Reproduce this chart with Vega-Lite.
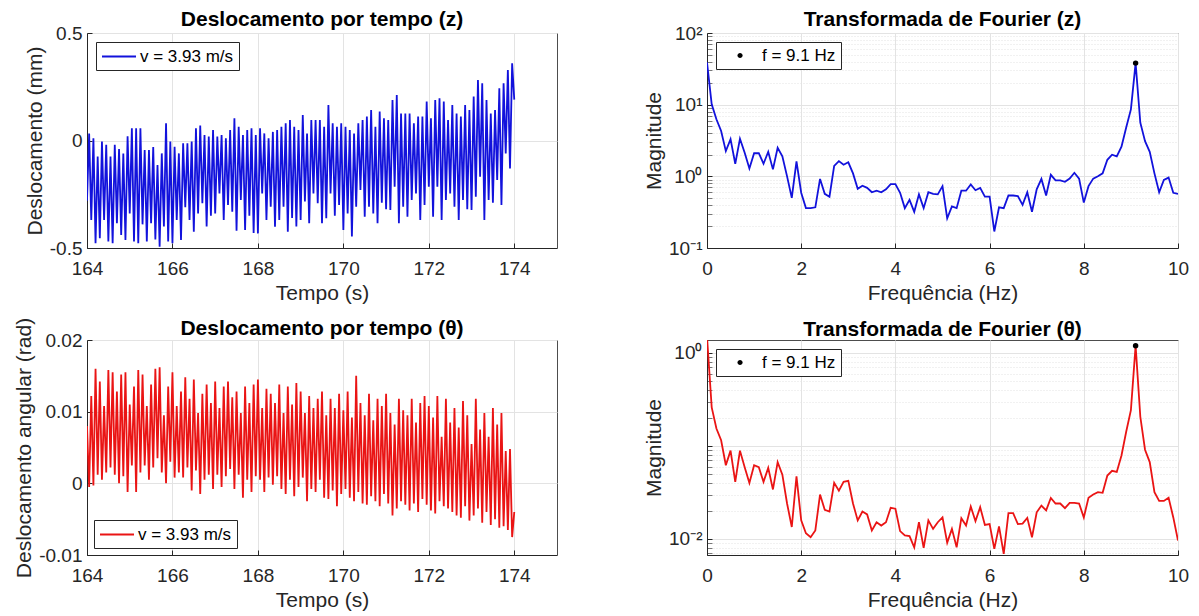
{
"$schema": "https://vega.github.io/schema/vega-lite/v6.json",
"background": "white",
"padding": {"left": 13, "top": 8, "right": 0, "bottom": 0},
"columns": 2,
"spacing": {"row": 92, "column": 150},
"bounds": "flush",
"resolve": {"scale": {"x": "independent", "y": "independent", "color": "independent"}, "legend": {"color": "independent"}},
"config": {
  "font": "Liberation Sans",
  "view": {"stroke": "#4d4d4d", "strokeWidth": 1},
  "axis": {"labelFontSize": 19, "titleFontSize": 21, "titleFontWeight": "normal", "labelColor": "#262626", "titleColor": "#262626", "domainColor": "#262626", "gridColor": "#e3e3e3", "ticks": true, "tickSize": -5, "tickColor": "#262626", "labelPadding": 10, "titlePadding": 4, "labelFlush": false},
  "axisX": {"labelPadding": 16, "titlePadding": 4},
  "title": {"fontSize": 21, "fontWeight": "bold", "color": "#000000", "offset": 0},
  "legend": {"strokeColor": "#262626", "fillColor": "white", "padding": 5, "labelFontSize": 17, "labelColor": "#000000", "labelLimit": 300, "cornerRadius": 0, "offset": 9}
},
"datasets": {
"ts": [
{"t":164,"z":-0.28,"a":0.008},{"t":164.05,"z":0.033,"a":-0.0005},{"t":164.1,"z":-0.37,"a":0.0122},{"t":164.15,"z":0.01,"a":-0.0003},{"t":164.2,"z":-0.478,"a":0.016},{"t":164.25,"z":-0.075,"a":0.0012},{"t":164.3,"z":-0.455,"a":0.0142},{"t":164.35,"z":-0.005,"a":0.0005},{"t":164.4,"z":-0.37,"a":0.0108},{"t":164.45,"z":-0.02,"a":0.0015},
{"t":164.5,"z":-0.47,"a":0.0158},{"t":164.55,"z":-0.075,"a":0.0022},{"t":164.6,"z":-0.478,"a":0.0155},{"t":164.65,"z":-0.02,"a":0.0012},{"t":164.7,"z":-0.385,"a":0.0128},{"t":164.75,"z":-0.04,"a":0},{"t":164.8,"z":-0.44,"a":0.0152},{"t":164.85,"z":-0.06,"a":0.001},{"t":164.9,"z":-0.463,"a":0.0155},{"t":164.95,"z":0.02,"a":-0.0012},
{"t":165,"z":-0.34,"a":0.011},{"t":165.05,"z":0.057,"a":0.0025},{"t":165.1,"z":-0.47,"a":0.0135},{"t":165.15,"z":0.057,"a":-0.0012},{"t":165.2,"z":-0.478,"a":0.0158},{"t":165.25,"z":0.057,"a":0.0015},{"t":165.3,"z":-0.39,"a":0.0152},{"t":165.35,"z":-0.044,"a":0.0025},{"t":165.4,"z":-0.47,"a":0.0108},{"t":165.45,"z":-0.044,"a":0.0005},
{"t":165.5,"z":-0.385,"a":0.0138},{"t":165.55,"z":-0.03,"a":0.0022},{"t":165.6,"z":-0.46,"a":0.016},{"t":165.65,"z":-0.114,"a":0.0035},{"t":165.7,"z":-0.494,"a":0.0162},{"t":165.75,"z":-0.06,"a":0.0015},{"t":165.8,"z":-0.4,"a":0.0095},{"t":165.85,"z":0.08,"a":0},{"t":165.9,"z":-0.47,"a":0.0135},{"t":165.95,"z":-0.005,"a":0.003},
{"t":166,"z":-0.478,"a":0.0155},{"t":166.05,"z":-0.029,"a":0.0008},{"t":166.1,"z":-0.37,"a":0.0108},{"t":166.15,"z":-0.06,"a":0.0015},{"t":166.2,"z":-0.463,"a":0.0128},{"t":166.25,"z":-0.013,"a":0.0008},{"t":166.3,"z":-0.31,"a":0.0148},{"t":166.35,"z":-0.013,"a":0.0022},{"t":166.4,"z":-0.37,"a":0.0118},{"t":166.45,"z":-0.005,"a":-0.001},
{"t":166.5,"z":-0.424,"a":0.0145},{"t":166.55,"z":0.057,"a":0.0018},{"t":166.6,"z":-0.339,"a":0.0098},{"t":166.65,"z":0.07,"a":-0.0015},{"t":166.7,"z":-0.292,"a":0.0125},{"t":166.75,"z":0.026,"a":0.0005},{"t":166.8,"z":-0.4,"a":0.0138},{"t":166.85,"z":0.018,"a":0.0012},{"t":166.9,"z":-0.35,"a":0.0112},{"t":166.95,"z":0.049,"a":-0.0008},
{"t":167,"z":-0.339,"a":0.0142},{"t":167.05,"z":0.018,"a":0.0012},{"t":167.1,"z":-0.246,"a":0.0105},{"t":167.15,"z":0.026,"a":-0.0005},{"t":167.2,"z":-0.37,"a":0.0135},{"t":167.25,"z":0.01,"a":0.001},{"t":167.3,"z":-0.3,"a":0.0142},{"t":167.35,"z":0.049,"a":0.002},{"t":167.4,"z":-0.331,"a":0.012},{"t":167.45,"z":0.103,"a":-0.0008},
{"t":167.5,"z":-0.42,"a":0.0128},{"t":167.55,"z":0.064,"a":0.0012},{"t":167.6,"z":-0.277,"a":0.0098},{"t":167.65,"z":0.026,"a":-0.002},{"t":167.7,"z":-0.416,"a":0.0135},{"t":167.75,"z":0.049,"a":0.0005},{"t":167.8,"z":-0.35,"a":0.0112},{"t":167.85,"z":0.057,"a":-0.0012},{"t":167.9,"z":-0.43,"a":0.0138},{"t":167.95,"z":0.026,"a":0.001},
{"t":168,"z":-0.432,"a":0.0145},{"t":168.05,"z":0.057,"a":0.0005},{"t":168.1,"z":-0.246,"a":0.0105},{"t":168.15,"z":0.033,"a":-0.0012},{"t":168.2,"z":-0.37,"a":0.0132},{"t":168.25,"z":0.01,"a":0.0008},{"t":168.3,"z":-0.308,"a":0.0125},{"t":168.35,"z":0.04,"a":-0.0002},{"t":168.4,"z":-0.401,"a":0.0112},{"t":168.45,"z":0.049,"a":0.001},
{"t":168.5,"z":-0.37,"a":0.0138},{"t":168.55,"z":0.064,"a":-0.0008},{"t":168.6,"z":-0.308,"a":0.0098},{"t":168.65,"z":0.08,"a":-0.0015},{"t":168.7,"z":-0.424,"a":0.0135},{"t":168.75,"z":0.095,"a":0.0005},{"t":168.8,"z":-0.36,"a":0.011},{"t":168.85,"z":0.064,"a":-0.0018},{"t":168.9,"z":-0.4,"a":0.014},{"t":168.95,"z":0.049,"a":-0.0005},
{"t":169,"z":-0.37,"a":0.0128},{"t":169.05,"z":0.119,"a":0.0008},{"t":169.1,"z":-0.284,"a":0.0098},{"t":169.15,"z":0.033,"a":-0.0025},{"t":169.2,"z":-0.385,"a":0.0122},{"t":169.25,"z":0.095,"a":-0.0008},{"t":169.3,"z":-0.246,"a":0.0105},{"t":169.35,"z":0.095,"a":-0.0012},{"t":169.4,"z":-0.292,"a":0.0118},{"t":169.45,"z":0.095,"a":0.0005},
{"t":169.5,"z":-0.385,"a":0.0128},{"t":169.55,"z":0.064,"a":-0.002},{"t":169.6,"z":-0.362,"a":0.0095},{"t":169.65,"z":0.165,"a":-0.0022},{"t":169.7,"z":-0.246,"a":0.0118},{"t":169.75,"z":0.08,"a":-0.001},{"t":169.8,"z":-0.35,"a":0.0105},{"t":169.85,"z":0.064,"a":-0.0032},{"t":169.9,"z":-0.3,"a":0.0125},{"t":169.95,"z":0.08,"a":-0.0015},
{"t":170,"z":-0.416,"a":0.0102},{"t":170.05,"z":0.064,"a":-0.0008},{"t":170.1,"z":-0.339,"a":0.0128},{"t":170.15,"z":0.049,"a":-0.002},{"t":170.2,"z":-0.447,"a":0.0092},{"t":170.25,"z":0.033,"a":-0.0025},{"t":170.3,"z":-0.308,"a":0.015},{"t":170.35,"z":0.08,"a":-0.0012},{"t":170.4,"z":-0.23,"a":0.0112},{"t":170.45,"z":0.095,"a":-0.0028},
{"t":170.5,"z":-0.354,"a":0.0095},{"t":170.55,"z":0.111,"a":-0.003},{"t":170.6,"z":-0.308,"a":0.0125},{"t":170.65,"z":0.142,"a":-0.0018},{"t":170.7,"z":-0.339,"a":0.0088},{"t":170.75,"z":0.064,"a":-0.0025},{"t":170.8,"z":-0.385,"a":0.0118},{"t":170.85,"z":0.135,"a":-0.0032},{"t":170.9,"z":-0.29,"a":0.0108},{"t":170.95,"z":0.103,"a":-0.0015},
{"t":171,"z":-0.32,"a":0.0125},{"t":171.05,"z":0.095,"a":-0.0028},{"t":171.1,"z":-0.323,"a":0.0098},{"t":171.15,"z":0.188,"a":-0.0045},{"t":171.2,"z":-0.215,"a":0.0082},{"t":171.25,"z":0.212,"a":-0.0035},{"t":171.3,"z":-0.385,"a":0.0118},{"t":171.35,"z":0.126,"a":-0.0025},{"t":171.4,"z":-0.308,"a":0.0102},{"t":171.45,"z":0.126,"a":-0.003},
{"t":171.5,"z":-0.354,"a":0.0095},{"t":171.55,"z":0.126,"a":-0.0038},{"t":171.6,"z":-0.277,"a":0.0118},{"t":171.65,"z":0.08,"a":-0.0028},{"t":171.7,"z":-0.246,"a":0.0085},{"t":171.75,"z":0.111,"a":-0.004},{"t":171.8,"z":-0.37,"a":0.0112},{"t":171.85,"z":0.111,"a":-0.0022},{"t":171.9,"z":-0.3,"a":0.0122},{"t":171.95,"z":0.181,"a":-0.003},
{"t":172,"z":-0.215,"a":0.0108},{"t":172.05,"z":0.103,"a":-0.0038},{"t":172.1,"z":-0.354,"a":0.0092},{"t":172.15,"z":0.188,"a":-0.0042},{"t":172.2,"z":-0.215,"a":0.0122},{"t":172.25,"z":0.196,"a":-0.0025},{"t":172.3,"z":-0.37,"a":0.0065},{"t":172.35,"z":0.181,"a":-0.0032},{"t":172.4,"z":-0.277,"a":0.0118},{"t":172.45,"z":0.095,"a":-0.0035},
{"t":172.5,"z":-0.246,"a":0.0085},{"t":172.55,"z":0.165,"a":-0.004},{"t":172.6,"z":-0.308,"a":0.0105},{"t":172.65,"z":0.126,"a":-0.0045},{"t":172.7,"z":-0.37,"a":0.0078},{"t":172.75,"z":0.111,"a":-0.0048},{"t":172.8,"z":-0.277,"a":0.0115},{"t":172.85,"z":0.165,"a":-0.0032},{"t":172.9,"z":-0.32,"a":0.0095},{"t":172.95,"z":0.142,"a":-0.0052},
{"t":173,"z":-0.323,"a":0.0055},{"t":173.05,"z":0.204,"a":-0.0045},{"t":173.1,"z":-0.261,"a":0.0118},{"t":173.15,"z":0.281,"a":-0.0035},{"t":173.2,"z":-0.168,"a":0.0075},{"t":173.25,"z":0.266,"a":-0.0055},{"t":173.3,"z":-0.37,"a":0.0098},{"t":173.35,"z":0.188,"a":-0.004},{"t":173.4,"z":-0.277,"a":0.0065},{"t":173.45,"z":0.126,"a":-0.0058},
{"t":173.5,"z":-0.29,"a":0.0105},{"t":173.55,"z":0.142,"a":-0.005},{"t":173.6,"z":-0.184,"a":0.0082},{"t":173.65,"z":0.243,"a":-0.0062},{"t":173.7,"z":-0.3,"a":0.0098},{"t":173.75,"z":0.266,"a":-0.006},{"t":173.8,"z":-0.06,"a":0.0045},{"t":173.85,"z":0.328,"a":-0.0065},{"t":173.9,"z":-0.13,"a":0.0048},{"t":173.95,"z":0.359,"a":-0.0075},
{"t":174,"z":0.19,"a":-0.004}
],
"ff": [
{"f":0,"z":39,"a":1.5},{"f":0.1,"z":10.1,"a":0.26},{"f":0.2,"z":6.25,"a":0.154},{"f":0.3,"z":4.3,"a":0.115},{"f":0.4,"z":2.25,"a":0.062},{"f":0.5,"z":3.3,"a":0.089},{"f":0.6,"z":1.5,"a":0.041},{"f":0.7,"z":3.35,"a":0.089},{"f":0.8,"z":2.14,"a":0.059},{"f":0.9,"z":1.29,"a":0.04},
{"f":1,"z":2.1,"a":0.062},{"f":1.1,"z":2.1,"a":0.059},{"f":1.2,"z":1.5,"a":0.041},{"f":1.3,"z":2.2,"a":0.058},{"f":1.4,"z":1.25,"a":0.034},{"f":1.5,"z":2.5,"a":0.067},{"f":1.6,"z":1.9,"a":0.049},{"f":1.7,"z":1.0,"a":0.024},{"f":1.8,"z":0.5,"a":0.0134},{"f":1.9,"z":1.62,"a":0.047},
{"f":2,"z":0.59,"a":0.0158},{"f":2.1,"z":0.36,"a":0.0115},{"f":2.2,"z":0.36,"a":0.0104},{"f":2.3,"z":0.37,"a":0.0123},{"f":2.4,"z":0.92,"a":0.03},{"f":2.5,"z":0.57,"a":0.0205},{"f":2.6,"z":0.52,"a":0.0197},{"f":2.7,"z":1.4,"a":0.04},{"f":2.8,"z":1.63,"a":0.033},{"f":2.9,"z":1.45,"a":0.041},
{"f":3,"z":1.57,"a":0.042},{"f":3.1,"z":1.1,"a":0.024},{"f":3.2,"z":0.67,"a":0.0158},{"f":3.3,"z":0.74,"a":0.0197},{"f":3.4,"z":0.69,"a":0.0183},{"f":3.5,"z":0.6,"a":0.0123},{"f":3.6,"z":0.63,"a":0.0151},{"f":3.7,"z":0.6,"a":0.0139},{"f":3.8,"z":0.66,"a":0.0151},{"f":3.9,"z":0.78,"a":0.0216},
{"f":4,"z":0.78,"a":0.0211},{"f":4.1,"z":0.59,"a":0.0121},{"f":4.2,"z":0.36,"a":0.0109},{"f":4.3,"z":0.47,"a":0.0107},{"f":4.4,"z":0.32,"a":0.0081},{"f":4.5,"z":0.56,"a":0.0151},{"f":4.6,"z":0.36,"a":0.008},{"f":4.7,"z":0.6,"a":0.0158},{"f":4.8,"z":0.57,"a":0.0128},{"f":4.9,"z":0.56,"a":0.0151},
{"f":5,"z":0.73,"a":0.017},{"f":5.1,"z":0.26,"a":0.0091},{"f":5.2,"z":0.38,"a":0.0128},{"f":5.3,"z":0.36,"a":0.0081},{"f":5.4,"z":0.63,"a":0.0167},{"f":5.5,"z":0.63,"a":0.0139},{"f":5.6,"z":0.77,"a":0.0223},{"f":5.7,"z":0.64,"a":0.0155},{"f":5.8,"z":0.69,"a":0.0219},{"f":5.9,"z":0.52,"a":0.0141},
{"f":6,"z":0.52,"a":0.0144},{"f":6.1,"z":0.17,"a":0.0078},{"f":6.2,"z":0.37,"a":0.0136},{"f":6.3,"z":0.36,"a":0.0069},{"f":6.4,"z":0.54,"a":0.0189},{"f":6.5,"z":0.54,"a":0.0189},{"f":6.6,"z":0.53,"a":0.0144},{"f":6.7,"z":0.4,"a":0.0146},{"f":6.8,"z":0.6,"a":0.0168},{"f":6.9,"z":0.32,"a":0.0104},
{"f":7,"z":0.66,"a":0.0193},{"f":7.1,"z":0.92,"a":0.0228},{"f":7.2,"z":0.54,"a":0.0202},{"f":7.3,"z":1.05,"a":0.0275},{"f":7.4,"z":0.88,"a":0.024},{"f":7.5,"z":0.88,"a":0.024},{"f":7.6,"z":0.84,"a":0.0214},{"f":7.7,"z":0.93,"a":0.0244},{"f":7.8,"z":1.12,"a":0.0244},{"f":7.9,"z":0.93,"a":0.024},
{"f":8,"z":0.43,"a":0.017},{"f":8.1,"z":0.73,"a":0.0277},{"f":8.2,"z":0.93,"a":0.03},{"f":8.3,"z":1.0,"a":0.0318},{"f":8.4,"z":1.1,"a":0.0313},{"f":8.5,"z":1.7,"a":0.048},{"f":8.6,"z":2.0,"a":0.054},{"f":8.7,"z":1.9,"a":0.0525},{"f":8.8,"z":2.6,"a":0.079},{"f":8.9,"z":4.8,"a":0.142},
{"f":9,"z":8.6,"a":0.243},{"f":9.1,"z":38,"a":1.2},{"f":9.2,"z":5.6,"a":0.206},{"f":9.3,"z":3.1,"a":0.091},{"f":9.4,"z":2.2,"a":0.067},{"f":9.5,"z":1.1,"a":0.0318},{"f":9.6,"z":0.6,"a":0.0256},{"f":9.7,"z":0.89,"a":0.0256},{"f":9.8,"z":0.96,"a":0.0277},{"f":9.9,"z":0.59,"a":0.017},
{"f":10,"z":0.57,"a":0.0096}
],
"pk": [{"f":9.1,"z":38,"a":1.2}]
},
"concat": [
{
  "width": 470, "height": 215,
  "title": {"text": "Deslocamento por tempo (z)", "offset": -6},
  "data": {"name": "ts"},
  "mark": {"type": "line", "strokeWidth": 1.8, "clip": true},
  "encoding": {
    "x": {"field": "t", "type": "quantitative", "scale": {"domain": [164, 175], "nice": false, "zero": false}, "axis": {"values": [164, 166, 168, 170, 172, 174], "title": "Tempo (s)"}},
    "y": {"field": "z", "type": "quantitative", "scale": {"domain": [-0.5, 0.5], "nice": false}, "axis": {"values": [-0.5, 0, 0.5], "title": "Deslocamento (mm)", "labelExpr": "datum.value > 0.25 ? '0.5' : datum.value < -0.25 ? '-0.5' : '0'"}},
    "color": {"datum": "v = 3.93 m/s", "scale": {"range": ["#1212dc"]}, "legend": {"title": null, "orient": "top-left", "symbolType": "M -1 0 L 3 0", "symbolSize": 289, "symbolStrokeWidth": 2, "labelOffset": 20}}
  }
},
{
  "width": 471, "height": 215,
  "title": {"text": "Transformada de Fourier (z)", "offset": -6},
  "data": {"name": "ff"},
  "layer": [
    {
      "mark": {"type": "line", "color": "#1212dc", "strokeWidth": 1.8, "clip": true},
      "encoding": {
        "x": {"field": "f", "type": "quantitative", "scale": {"domain": [0, 10], "nice": false}, "axis": {"values": [0, 2, 4, 6, 8, 10], "title": "Frequência (Hz)"}},
        "y": {"field": "z", "type": "quantitative", "scale": {"type": "log", "domain": [0.1, 100], "nice": false}, "axis": {"title": "Magnitude", "values": [0.1,0.2,0.3,0.4,0.5,0.6,0.7,0.8,0.9,1,2,3,4,5,6,7,8,9,10,20,30,40,50,60,70,80,90,100], "labelExpr": "datum.value == 100 ? '10²' : datum.value == 10 ? '10¹' : datum.value == 1 ? '10⁰' : datum.value == 0.1 ? '10⁻¹' : ''", "tickSize": -5, "tickOpacity": {"condition": {"test": "datum.value == 100 || datum.value == 10 || datum.value == 1 || datum.value == 0.1", "value": 1}, "value": 0.6}, "gridDash": {"condition": {"test": "datum.value == 100 || datum.value == 10 || datum.value == 1 || datum.value == 0.1", "value": []}, "value": [1, 2]}}}
      }
    },
    {
      "data": {"name": "pk"},
      "mark": {"type": "point", "filled": true, "size": 30, "opacity": 1},
      "encoding": {
        "x": {"field": "f", "type": "quantitative"},
        "y": {"field": "z", "type": "quantitative", "scale": {"type": "log"}},
        "color": {"datum": "f = 9.1 Hz", "scale": {"range": ["#000000"]}, "legend": {"title": null, "orient": "top-left", "symbolType": "M 0.94 0 A 0.3 0.3 0 1 0 1.54 0 A 0.3 0.3 0 1 0 0.94 0 Z", "symbolSize": 289, "symbolStrokeWidth": 0, "labelOffset": 24}}
      }
    }
  ]
},
{
  "width": 470, "height": 215,
  "title": {"text": "Deslocamento por tempo (θ)", "offset": -22},
  "data": {"name": "ts"},
  "mark": {"type": "line", "strokeWidth": 1.8, "clip": true},
  "encoding": {
    "x": {"field": "t", "type": "quantitative", "scale": {"domain": [164, 175], "nice": false, "zero": false}, "axis": {"values": [164, 166, 168, 170, 172, 174], "title": "Tempo (s)"}},
    "y": {"field": "a", "type": "quantitative", "scale": {"domain": [-0.01, 0.02], "nice": false}, "axis": {"values": [-0.01, 0, 0.01, 0.02], "title": "Deslocamento angular (rad)", "labelExpr": "datum.value < -0.005 ? '-0.01' : datum.value > 0.015 ? '0.02' : datum.value > 0.005 ? '0.01' : '0'"}},
    "color": {"datum": "v = 3.93 m/s", "scale": {"range": ["#ea1414"]}, "legend": {"title": null, "orient": "bottom-left", "offset": 7, "symbolType": "M -1 0 L 3 0", "symbolSize": 289, "symbolStrokeWidth": 2, "labelOffset": 20}}
  }
},
{
  "width": 471, "height": 215,
  "title": {"text": "Transformada de Fourier (θ)", "offset": 0},
  "data": {"name": "ff"},
  "layer": [
    {
      "mark": {"type": "line", "color": "#ea1414", "strokeWidth": 1.8, "clip": true},
      "encoding": {
        "x": {"field": "f", "type": "quantitative", "scale": {"domain": [0, 10], "nice": false}, "axis": {"values": [0, 2, 4, 6, 8, 10], "title": "Frequência (Hz)"}},
        "y": {"field": "a", "type": "quantitative", "scale": {"type": "log", "domain": [0.0067, 1.38], "nice": false}, "axis": {"title": "Magnitude", "values": [0.007,0.008,0.009,0.01,0.02,0.03,0.04,0.05,0.06,0.07,0.08,0.09,0.1,0.2,0.3,0.4,0.5,0.6,0.7,0.8,0.9,1], "labelExpr": "datum.value == 1 ? '10⁰' : datum.value == 0.01 ? '10⁻²' : ''", "tickSize": -5, "tickOpacity": {"condition": {"test": "datum.value == 1 || datum.value == 0.1 || datum.value == 0.01", "value": 1}, "value": 0.6}, "gridDash": {"condition": {"test": "datum.value == 1 || datum.value == 0.1 || datum.value == 0.01", "value": []}, "value": [1, 2]}}}
      }
    },
    {
      "data": {"name": "pk"},
      "mark": {"type": "point", "filled": true, "size": 30, "opacity": 1},
      "encoding": {
        "x": {"field": "f", "type": "quantitative"},
        "y": {"field": "a", "type": "quantitative", "scale": {"type": "log"}},
        "color": {"datum": "f = 9.1 Hz", "scale": {"range": ["#000000"]}, "legend": {"title": null, "orient": "top-left", "symbolType": "M 0.94 0 A 0.3 0.3 0 1 0 1.54 0 A 0.3 0.3 0 1 0 0.94 0 Z", "symbolSize": 289, "symbolStrokeWidth": 0, "labelOffset": 24}}
      }
    }
  ]
}
]
}
